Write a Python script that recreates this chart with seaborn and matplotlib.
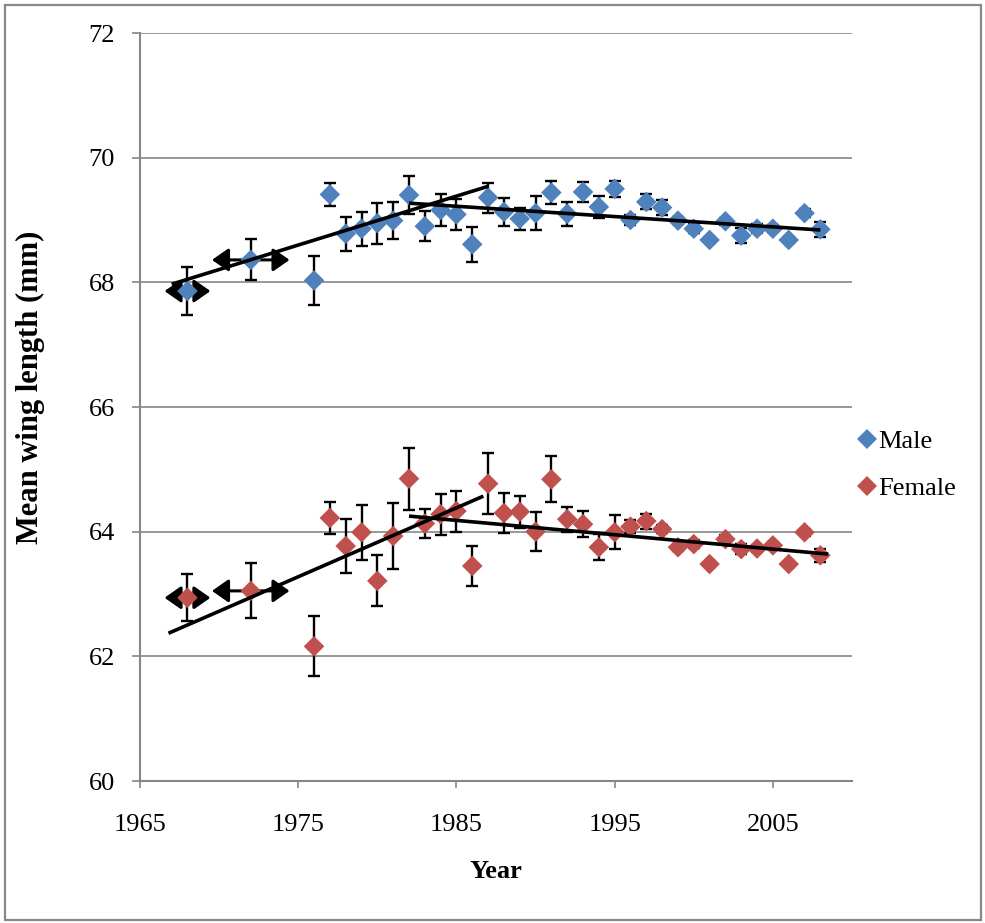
import matplotlib
matplotlib.use("Agg")
import matplotlib.pyplot as plt
import seaborn as sns
import pandas as pd
import numpy as np
from matplotlib.lines import Line2D
from matplotlib.patches import Rectangle

# ---------------- data ----------------
years = [1968, 1972] + list(range(1976, 2009))

male_mean = [67.86, 68.36, 68.03, 69.41, 68.78, 68.86, 68.95, 68.99, 69.40, 68.90,
             69.16, 69.09, 68.61, 69.36, 69.13, 69.02, 69.11, 69.44, 69.10, 69.45,
             69.21, 69.50, 69.00, 69.29, 69.20, 68.99, 68.86, 68.68, 68.98, 68.75,
             68.86, 68.86, 68.68, 69.11, 68.85]
male_err = [0.39, 0.33, 0.40, 0.18, 0.27, 0.27, 0.33, 0.30, 0.30, 0.24,
            0.25, 0.25, 0.28, 0.24, 0.22, 0.18, 0.27, 0.18, 0.19, 0.16,
            0.17, 0.13, 0.08, 0.12, 0.12, 0.06, 0.07, 0.05, 0.06, 0.12,
            0.07, 0.06, 0.05, 0.06, 0.12]

female_mean = [62.94, 63.05, 62.16, 64.22, 63.77, 63.99, 63.21, 63.93, 64.85, 64.13,
               64.28, 64.33, 63.45, 64.77, 64.30, 64.32, 64.00, 64.84, 64.20, 64.12,
               63.75, 63.99, 64.08, 64.17, 64.04, 63.75, 63.80, 63.48, 63.88, 63.72,
               63.73, 63.78, 63.48, 63.99, 63.62]
female_err = [0.38, 0.44, 0.48, 0.26, 0.44, 0.44, 0.41, 0.53, 0.50, 0.23,
              0.33, 0.33, 0.32, 0.49, 0.32, 0.26, 0.31, 0.37, 0.20, 0.21,
              0.21, 0.27, 0.10, 0.12, 0.06, 0.06, 0.06, 0.05, 0.06, 0.08,
              0.06, 0.06, 0.05, 0.06, 0.10]

# pooled-year ranges (horizontal arrows): centre year and half-width
pooled_years = [1968, 1972]
pooled_halfwidth = [1.45, 2.45]

# trend lines: (start year, end year, start value, end value)
male_trend_early = [1967.0, 1987.0, 67.97, 69.54]
male_trend_late = [1982.0, 2008.0, 69.27, 68.84]
female_trend_early = [1966.8, 1986.7, 62.37, 64.57]
female_trend_late = [1982.0, 2008.5, 64.25, 63.64]

sexes = ["Male", "Female"]
colors = {"Male": "#4F81BD", "Female": "#C0504D"}
yticks = [60, 62, 64, 66, 68, 70, 72]
xticks = [1965, 1975, 1985, 1995, 2005]

# ---------------- figure ----------------
sns.set_theme(style="white")
plt.rcParams["font.family"] = ["Liberation Serif", "DejaVu Serif"]
plt.rcParams["text.color"] = "black"
plt.rcParams["axes.labelcolor"] = "black"
plt.rcParams["xtick.labelcolor"] = "black"
plt.rcParams["ytick.labelcolor"] = "black"

fig = plt.figure(figsize=(9.85, 9.23), dpi=100)
ax = fig.add_axes([140 / 985, 1 - 781 / 923, 712 / 985, 748 / 923])

df = pd.DataFrame({
    "Year": years * 2,
    "Length": male_mean + female_mean,
    "Err": male_err + female_err,
    "Sex": ["Male"] * len(years) + ["Female"] * len(years),
})

# error bars
for sex in sexes:
    sub = df[df["Sex"] == sex]
    ax.errorbar(sub["Year"], sub["Length"], yerr=sub["Err"], fmt="none",
                ecolor="black", elinewidth=1.7, capsize=4.3, capthick=1.7, zorder=2)

# horizontal arrows for pooled years
for sex, means in (("Male", male_mean), ("Female", female_mean)):
    for yr, hw in zip(pooled_years, pooled_halfwidth):
        yv = means[years.index(yr)]
        ax.annotate("", xy=(yr - hw, yv), xytext=(yr + hw, yv),
                    arrowprops=dict(arrowstyle="<|-|>,head_length=0.5,head_width=0.35",
                                    color="black", lw=2.2, mutation_scale=20,
                                    shrinkA=0, shrinkB=0),
                    zorder=2.5)

# markers
sns.scatterplot(data=df, x="Year", y="Length", hue="Sex", palette=colors,
                marker="D", s=110, linewidth=0, ax=ax, zorder=3, legend=False)

# trend lines
for tr in (male_trend_early, male_trend_late, female_trend_early, female_trend_late):
    ax.plot([tr[0], tr[1]], [tr[2], tr[3]], color="black", lw=2.6,
            solid_capstyle="butt", zorder=4)

# axes styling
grid_c = "#868686"
ax.set_xlim(1965, 2010)
ax.set_ylim(60, 72)
ax.set_yticks(yticks)
ax.set_xticks(xticks)
ax.yaxis.grid(True, color=grid_c, lw=1.2)
ax.xaxis.grid(False)
ax.set_axisbelow(True)
for s in ("top", "right"):
    ax.spines[s].set_visible(False)
for s in ("left", "bottom"):
    ax.spines[s].set_color(grid_c)
    ax.spines[s].set_linewidth(1.5)
ax.tick_params(axis="y", direction="out", length=6, width=1.2, color=grid_c,
               labelsize=19, pad=12, left=True, labelcolor="black")
ax.tick_params(axis="x", direction="out", length=5, width=1.2, color=grid_c,
               labelsize=19, pad=19, bottom=True, labelcolor="black")

ax.set_xlabel("Year", fontsize=19, fontweight="bold", color="black")
ax.set_ylabel("Mean wing length (mm)", fontsize=22, fontweight="bold", color="black")
ax.xaxis.label.set_va("center")
ax.yaxis.label.set_va("center")
ax.xaxis.set_label_coords(0.5, (781 - 872) / 748)
ax.yaxis.set_label_coords((30 - 140) / 712, (781 - 387) / 748)

# legend
handles = [Line2D([], [], marker="D", linestyle="none", markersize=10,
                  markerfacecolor=colors[s], markeredgewidth=0, label=s) for s in sexes]
fig.legend(handles=handles, loc="center left",
           bbox_to_anchor=(859 / 985, 1 - 465 / 923), frameon=False,
           fontsize=19, handlelength=0.6, handletextpad=0.12,
           labelspacing=0.88, borderpad=0, borderaxespad=0, labelcolor="black")

# outer border
fig.patches.append(Rectangle((5 / 985, 1 - 920 / 923), 976 / 985, 915 / 923,
                             transform=fig.transFigure, fill=False,
                             edgecolor="#888888", lw=1.6))

fig.savefig("out.png", dpi=100)
